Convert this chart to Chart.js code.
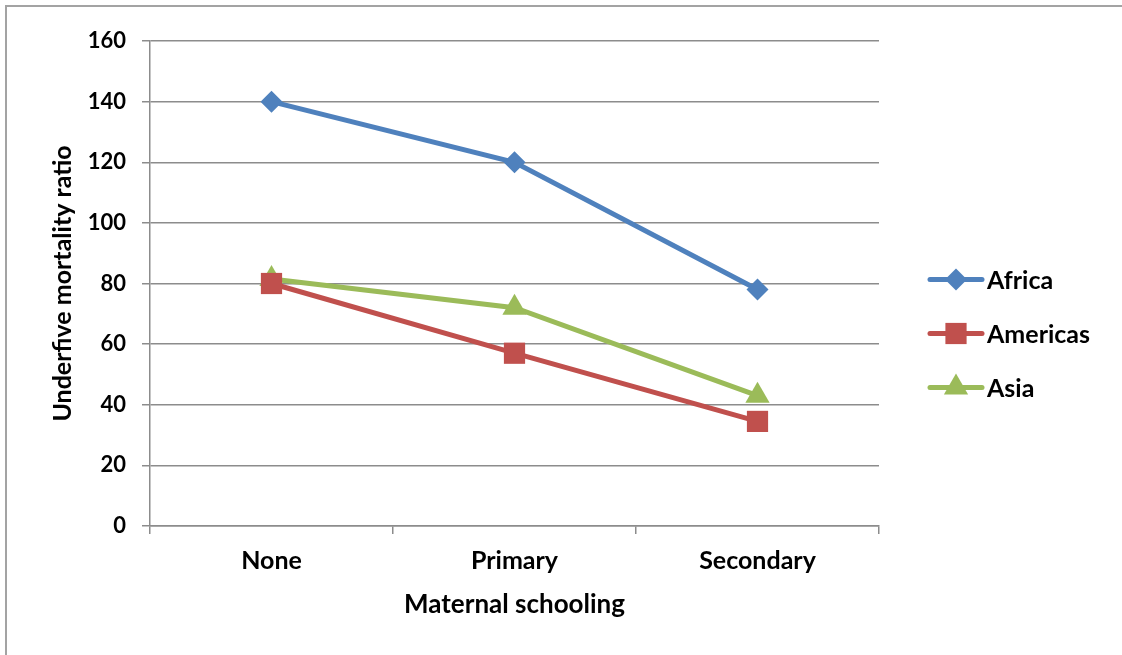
<!DOCTYPE html>
<html>
<head>
<meta charset="utf-8">
<script src="https://cdn.jsdelivr.net/npm/chart.js@4"></script>
<style>
  html, body { margin: 0; padding: 0; background: #fff; overflow: hidden; }
  #wrap { position: relative; width: 1122px; height: 655px; }
  #frame { position: absolute; left: 5px; top: 5px; width: 1200px; height: 700px;
           border-left: 2px solid #a3a3a3; border-top: 2px solid #a3a3a3; }
  canvas { position: absolute; left: 0; top: 0; }
</style>
</head>
<body>
<div id="wrap">
  <div id="frame"></div>
  <canvas id="grafico" width="1122" height="655"></canvas>
</div>
<script>
// dados
const escolaridade = ["None", "Primary", "Secondary"]
const africa = [140, 120, 78]
const americas = [80, 57, 34.5]
const asia = [81.5, 72, 43]
const ticksY = [0, 20, 40, 60, 80, 100, 120, 140, 160]

const fonte = "Lato, 'Open Sans', sans-serif"

const series = [
  { label: "Africa", data: africa, cor: "#4F81BD", ponto: "rectRot", raio: 11 },
  { label: "Americas", data: americas, cor: "#C0504D", ponto: "rect", raio: 15 },
  { label: "Asia", data: asia, cor: "#9BBB59", ponto: "triangle", raio: 14 }
]

// legenda desenhada a mao: linha + marcador + texto
const legendaLinha = {
  id: "legendaLinha",
  afterDraw(chart) {
    const ctx = chart.ctx
    const area = chart.chartArea
    const x0 = area.right + 51
    const meio = (area.top + area.bottom) / 2 + 50
    ctx.save()
    series.forEach(function(s, i) {
      const y = meio + (i - 1) * 54
      ctx.strokeStyle = s.cor
      ctx.lineWidth = 5
      ctx.lineCap = "round"
      ctx.beginPath()
      ctx.moveTo(x0, y)
      ctx.lineTo(x0 + 52, y)
      ctx.stroke()
      ctx.fillStyle = s.cor
      Chart.helpers.drawPoint(ctx, { pointStyle: s.ponto, radius: s.raio, borderWidth: 0 }, x0 + 26, y)
      ctx.fillStyle = "#000"
      ctx.font = "bold 25px " + fonte
      ctx.textBaseline = "middle"
      ctx.fillText(s.label, x0 + 57, y + 1)
    })
    ctx.restore()
  }
}

new Chart(document.getElementById("grafico"), {
  type: "line",
  data: {
    labels: escolaridade,
    datasets: series.map(function(s) {
      return {
        label: s.label,
        data: s.data,
        borderColor: s.cor,
        backgroundColor: s.cor,
        borderWidth: 5,
        pointStyle: s.ponto,
        pointRadius: s.raio,
        pointBorderWidth: 0,
        tension: 0
      }
    })
  },
  options: {
    responsive: false,
    animation: false,
    layout: { padding: { top: 41, right: 243, bottom: 29, left: 0 } },
    plugins: { legend: { display: false }, tooltip: { enabled: false } },
    scales: {
      x: {
        offset: true,
        grid: { offset: true, drawOnChartArea: false, drawTicks: true, tickLength: 8, color: "#8c8c8c", lineWidth: 1.5 },
        border: { color: "#8c8c8c", width: 1.5 },
        ticks: { color: "#000", font: { family: fonte, size: 25, weight: "bold" }, padding: 12 },
        title: { display: true, text: "Maternal schooling", color: "#000",
                 font: { family: fonte, size: 26, weight: "bold" }, padding: { top: 0, bottom: 6 } },
        afterFit(s) { s.height = 100 }
      },
      y: {
        min: 0,
        max: 160,
        afterBuildTicks(s) { s.ticks = ticksY.map(function(v) { return { value: v } }) },
        grid: { color: "#8c8c8c", lineWidth: 1.5, tickLength: 8 },
        border: { color: "#8c8c8c", width: 1.5 },
        ticks: { color: "#000", font: { family: fonte, size: 22, weight: "bold" }, padding: 16 },
        title: { display: true, text: "Underfive mortality ratio", color: "#000",
                 font: { family: fonte, size: 25, weight: "bold" }, padding: { top: 48, bottom: 0 } },
        afterFit(s) { s.width = 150 }
      }
    }
  },
  plugins: [legendaLinha]
})
</script>
</body>
</html>
